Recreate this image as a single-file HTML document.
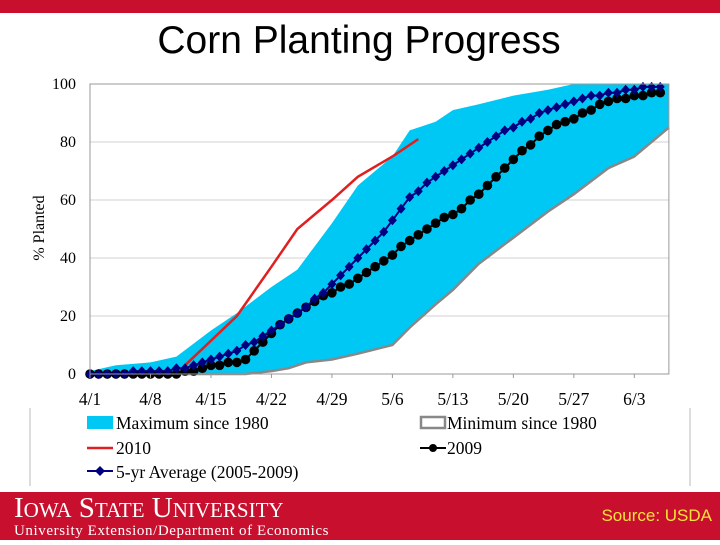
<!DOCTYPE html>
<html><head><meta charset="utf-8"><style>
html,body{margin:0;padding:0;background:#fff;}
body{width:720px;height:540px;overflow:hidden;position:relative;font-family:"Liberation Sans",sans-serif;}
</style></head><body>
<svg id="c" width="720" height="540" viewBox="0 0 720 540" xmlns="http://www.w3.org/2000/svg">
<rect x="0" y="0" width="720" height="13" fill="#c8102e"/>
<text x="359" y="53" text-anchor="middle" font-family="Liberation Sans, sans-serif" font-size="39" fill="#000">Corn Planting Progress</text>
<line x1="30" y1="408" x2="30" y2="486" stroke="#bbb"/>
<line x1="690" y1="408" x2="690" y2="486" stroke="#bbb"/>
<text transform="translate(44,228) rotate(-90)" text-anchor="middle" font-family="Liberation Serif, serif" font-size="16">% Planted</text>
<g id="grid"></g>
<g id="marks"></g>
<g id="axes"></g>
<g font-family="Liberation Serif, serif" font-size="17.5">
 <g><rect x="87" y="416" width="26" height="13" fill="#00c8f4"/><text x="116" y="429">Maximum since 1980</text></g>
 <g><rect x="421" y="417" width="24" height="11" fill="#fff" stroke="#888" stroke-width="2.5"/><text x="447" y="429">Minimum since 1980</text></g>
 <g><line x1="87" y1="448" x2="113" y2="448" stroke="#e02020" stroke-width="2.5"/><text x="116" y="454">2010</text></g>
 <g><line x1="420" y1="448" x2="446" y2="448" stroke="#000" stroke-width="2"/><circle cx="433" cy="448" r="4"/><text x="447" y="454">2009</text></g>
 <g><line x1="87" y1="471" x2="113" y2="471" stroke="#000080" stroke-width="2"/><path d="M100 466 L105 471 L100 476 L95 471Z" fill="#000080"/><text x="116" y="478">5-yr Average (2005-2009)</text></g>
</g>
<rect x="0" y="492" width="720" height="48" fill="#c8102e"/>
<text x="14" y="517" fill="#fff" font-family="Liberation Serif, serif" font-size="29">I<tspan font-size="21">OWA</tspan> S<tspan font-size="21">TATE</tspan> U<tspan font-size="21">NIVERSITY</tspan></text>
<text x="14" y="535" fill="#fff" font-family="Liberation Serif, serif" font-size="15" letter-spacing="0.6">University Extension/Department of Economics</text>
<text x="712" y="521" text-anchor="end" fill="#f5e23a" font-family="Liberation Sans, sans-serif" font-size="17">Source: USDA</text>
</svg>
<script>
const tickLabels = ["4/1","4/8","4/15","4/22","4/29","5/6","5/13","5/20","5/27","6/3"];
const yTicks = [0,20,40,60,80,100];
const maxDays = [0,3,7,10,14,17,21,24,28,31,35,37,40,42,45,49,53,56,67];
const maxVals = [1,3,4,6,15,21,30,36,52,65,75,84,87,91,93,96,98,100,100];
const minDays = [0,14,18,21,23,25,28,31,35,37,40,42,45,49,53,56,60,63,67];
const minVals = [0,0,0,1,2,4,5,7,10,16,24,29,38,47,56,62,71,75,85];
const y2010Days = [11,17,21,24,28,31,35,38];
const y2010Vals = [3,20,37,50,60,68,75,81];
const avgVals = [0,0,0,0,0,1,1,1,1,1,2,2,3,4,5,6,7,8,10,11,13,15,17,19,21,23,26,28,31,34,37,40,43,46,49,53,57,61,63,66,68,70,72,74,76,78,80,82,84,85,87,88,90,91,92,93,94,95,96,96,97,97,98,98,99,99,99];
const y2009Vals = [0,0,0,0,0,0,0,0,0,0,0,1,1,2,3,3,4,4,5,8,11,14,17,19,21,23,25,27,28,30,31,33,35,37,39,41,44,46,48,50,52,54,55,57,60,62,65,68,71,74,77,79,82,84,86,87,88,90,91,93,94,95,95,96,96,97,97];

const NS="http://www.w3.org/2000/svg";
const X0=90, DX=8.64, Y0=374, Y1=84;
const xs=d=>X0+d*DX;
const ys=v=>Y0-(v/100)*(Y0-Y1);
function mk(tag,attrs,parent){const e=document.createElementNS(NS,tag);for(const k in attrs)e.setAttribute(k,attrs[k]);parent.appendChild(e);return e;}
const grid=document.getElementById('grid'), marks=document.getElementById('marks'), axes=document.getElementById('axes');
yTicks.forEach(t=>{
  const l=mk('line',{x1:X0,x2:xs(67),y1:ys(t),y2:ys(t),stroke:'#d0d0d0','stroke-width':1},grid);
  
  
  const tx=mk('text',{x:76,y:ys(t)+5,'text-anchor':'end','font-family':'Liberation Serif, serif','font-size':16},axes);
  tx.textContent=t;
  
  
});
mk('rect',{x:X0,y:Y1,width:xs(67)-X0,height:Y0-Y1,fill:'none',stroke:'#999'},axes);
tickLabels.forEach((t,i)=>{
  const tx=mk('text',{x:xs(i*7),y:405,'text-anchor':'middle','font-family':'Liberation Serif, serif','font-size':17.5},axes);
  tx.textContent=t;
  
  
  mk('line',{x1:xs(i*7),x2:xs(i*7),y1:Y0,y2:Y0+4,stroke:'#999'},axes);
});
let d='M'+maxDays.map((dd,i)=>xs(dd)+' '+ys(maxVals[i])).join(' L');
for(let i=minDays.length-1;i>=0;i--) d+=' L'+xs(minDays[i])+' '+ys(minVals[i]);
const band=mk('path',{d:d+'Z',fill:'#00c8f4'},marks);


const minL=mk('polyline',{points:minDays.map((dd,i)=>xs(dd)+','+ys(minVals[i])).join(' '),fill:'none',stroke:'#888','stroke-width':2.5},marks);


const l10=mk('polyline',{points:y2010Days.map((dd,i)=>xs(dd)+','+ys(y2010Vals[i])).join(' '),fill:'none',stroke:'#e02020','stroke-width':2.5},marks);


const l09=mk('polyline',{points:y2009Vals.map((v,i)=>xs(i)+','+ys(v)).join(' '),fill:'none',stroke:'#000','stroke-width':2},marks);


y2009Vals.forEach((v,i)=>{
  const c=mk('circle',{cx:xs(i),cy:ys(v),r:4.8,fill:'#000'},marks);
  
  
});
const la=mk('polyline',{points:avgVals.map((v,i)=>xs(i)+','+ys(v)).join(' '),fill:'none',stroke:'#000080','stroke-width':2},marks);


avgVals.forEach((v,i)=>{
  const x=xs(i),y=ys(v);
  const p=mk('path',{d:`M${x} ${y-5} L${x+4.5} ${y} L${x} ${y+5} L${x-4.5} ${y}Z`,fill:'#000080'},marks);
  
  
});
</script>
</body></html>
